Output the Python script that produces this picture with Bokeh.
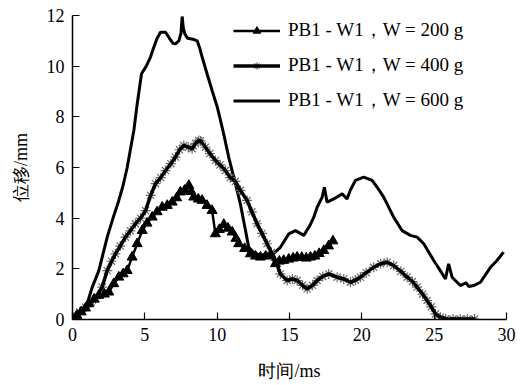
from bokeh.plotting import figure
from bokeh.models import Range1d, FixedTicker, Legend, LegendItem
from bokeh.embed import file_html
from bokeh.resources import INLINE

# ---- data ----
t200 = [0, 0.3, 0.6, 0.9, 1.13, 1.5, 1.82, 2.2, 2.51, 2.85, 3.2, 3.5, 3.78, 4.12, 4.47, 4.82,
        5.15, 5.51, 5.85, 6.2, 6.55, 6.89, 7.2, 7.46, 7.75, 8.04, 8.2, 8.38, 8.7, 8.96, 9.3,
        9.65, 9.88, 10.15, 10.46, 10.75, 11.04, 11.3, 11.49, 11.9, 12.3, 12.65, 12.99, 13.35,
        13.68, 14.03, 14.3, 14.6, 14.95, 15.25, 15.53, 15.85, 16.15, 16.45, 16.75, 17.05,
        17.37, 17.7, 18.0]
y200 = [0, 0.16, 0.3, 0.45, 0.62, 0.8, 0.95, 1.0, 1.08, 1.41, 1.67, 1.8, 1.93, 2.46, 2.99, 3.51,
        3.8, 4.04, 4.25, 4.43, 4.5, 4.63, 4.8, 5.03, 5.1, 5.29, 5.05, 4.83, 4.75, 4.7, 4.5,
        4.3, 3.38, 3.55, 3.75, 3.6, 3.45, 3.2, 2.99, 2.8, 2.59, 2.5, 2.46, 2.5,
        2.53, 2.2, 2.3, 2.33, 2.38, 2.42, 2.46, 2.45, 2.42, 2.46, 2.5, 2.6,
        2.72, 2.9, 3.1]

t400 = [0, 0.09, 0.5, 0.9, 1.3, 1.59, 2.05, 2.4, 2.7, 2.97, 3.3, 3.66, 4.0, 4.35, 4.7, 5.05,
        5.4, 5.74, 6.1, 6.43, 6.8, 7.12, 7.4, 7.69, 8.0, 8.27, 8.5, 8.73, 8.85, 9.19, 9.5,
        9.88, 10.2, 10.57, 10.9, 11.26, 11.6, 12.07, 12.4, 12.76, 13.1, 13.45, 13.75, 14.03,
        14.37, 14.84, 15.2, 15.53, 15.9, 16.22, 16.6, 16.91, 17.3, 17.71, 18.29, 18.75, 19.21,
        19.55, 19.9, 20.3, 20.82, 21.3, 21.75, 22.2, 22.7, 23.13, 23.5, 23.82, 24.2, 24.51,
        24.8, 25.09, 25.43, 25.8, 26.3, 26.8, 27.3, 27.8]
y400 = [0, 0.09, 0.3, 0.49, 0.7, 0.82, 1.28, 1.93, 2.3, 2.59, 2.9, 3.25, 3.5, 3.78, 4.0, 4.3,
        4.9, 5.36, 5.6, 5.88, 6.15, 6.41, 6.7, 6.87, 6.8, 6.74, 6.95, 7.07, 7.05, 6.8, 6.55,
        6.28, 6.1, 5.88, 5.6, 5.45, 5.1, 4.7, 4.25, 3.78, 3.4, 2.99, 2.65, 2.33,
        1.8, 1.54, 1.6, 1.54, 1.35, 1.21, 1.35, 1.54, 1.7, 1.8, 1.67, 1.6, 1.47,
        1.55, 1.67, 1.85, 2.06, 2.2, 2.26, 2.13, 1.9, 1.67, 1.5, 1.28, 1.0, 0.75,
        0.5, 0.22, 0.09, 0.03, 0.02, 0.02, 0.02, 0.02]

t600 = [0, 0.5, 1.0, 1.36, 1.82, 2.4, 2.8, 3.2, 3.5, 3.78, 4.0, 4.24, 4.47, 4.77, 5.1, 5.39,
        5.62, 5.85, 6.08, 6.43, 6.7, 6.95, 7.12, 7.35, 7.5, 7.58, 7.66, 7.76, 7.95, 8.15, 8.4,
        8.62, 8.8, 8.96, 9.3, 9.65, 10.0, 10.23, 10.5, 10.8, 11.26, 11.6, 11.96, 12.18, 12.6,
        13.2, 13.9, 14.37, 14.95, 15.41, 15.99, 16.4, 16.68, 16.91, 17.26, 17.41, 17.6, 18.06,
        18.64, 18.98, 19.2, 19.56, 20.13, 20.71, 21.06, 21.51, 22.2, 22.78, 23.36, 23.82,
        24.28, 24.97, 25.4, 25.78, 26.0, 26.24, 26.81, 27.2, 27.4, 27.73, 28.2, 28.89, 29.3,
        29.8]
y600 = [0, 0.2, 0.6, 1.27, 1.93, 3.25, 4.0, 4.7, 5.3, 6.0, 6.7, 7.46, 8.5, 9.7, 10.0, 10.36,
        10.75, 11.1, 11.34, 11.34, 11.1, 10.9, 10.88, 11.0, 11.3, 11.96, 11.5, 11.28, 11.1, 11.08, 11.05,
        11.0, 10.7, 10.36, 9.7, 9.04, 8.4, 7.86, 7.2, 6.4, 5.36, 4.57, 3.51, 2.85, 2.6,
        2.55, 2.6, 2.85, 3.38, 3.51, 3.32, 3.7, 4.04, 4.43, 4.83, 5.22, 4.63, 4.76,
        4.96, 4.76, 5.1, 5.49, 5.62, 5.49, 5.22, 4.83, 4.04, 3.51, 3.32, 3.25,
        2.99, 2.33, 1.95, 1.6, 2.2, 1.67, 1.34, 1.45, 1.3, 1.34, 1.47, 2.06, 2.3,
        2.66]

x_ticks = [0, 5, 10, 15, 20, 25, 30]
y_ticks = [0, 2, 4, 6, 8, 10, 12]
labels = ["PB1 - W1，W = 200 g", "PB1 - W1，W = 400 g", "PB1 - W1，W = 600 g"]

SERIF = "Liberation Serif"

p = figure(width=523, height=385, output_backend="svg", toolbar_location=None,
           x_range=Range1d(0, 30), y_range=Range1d(0, 12),
           min_border_left=72, min_border_right=17, min_border_top=15, min_border_bottom=66)
p.outline_line_color = None
p.grid.visible = False
p.background_fill_color = "white"
p.border_fill_color = "white"

for ax in (p.xaxis[0], p.yaxis[0]):
    ax.axis_line_width = 1.5
    ax.axis_line_color = "black"
    ax.major_tick_in = 7
    ax.major_tick_out = 0
    ax.major_tick_line_width = 1.2
    ax.minor_tick_line_color = None
    ax.major_label_text_font = SERIF
    ax.major_label_text_font_size = "18px"
    ax.major_label_text_color = "black"
    ax.axis_label_text_font = SERIF
    ax.axis_label_text_font_size = "18px"
    ax.axis_label_text_font_style = "normal"
    ax.axis_label_text_color = "black"

p.xaxis.ticker = FixedTicker(ticks=x_ticks)
p.yaxis.ticker = FixedTicker(ticks=y_ticks)
p.xaxis.axis_label = "时间/ms"
p.yaxis.axis_label = "位移/mm"
p.xaxis.major_label_standoff = 8
p.yaxis.major_label_standoff = 8
p.xaxis.axis_label_standoff = 17
p.yaxis.axis_label_standoff = 13

# W = 600 g
r600 = p.line(t600, y600, line_color="black", line_width=3)
# W = 400 g
r400m = p.scatter(t400, y400, marker="asterisk", size=10, line_color="#6a6a6a", line_width=1.2)
r400l = p.line(t400, y400, line_color="black", line_width=3.5)
# W = 200 g
r200l = p.line(t200, y200, line_color="black", line_width=2.5)
r200m = p.scatter(t200, y200, marker="triangle", size=10, fill_color="black", line_color="black")

legend = Legend(items=[
    LegendItem(label=labels[0], renderers=[r200l, r200m]),
    LegendItem(label=labels[1], renderers=[r400m, r400l]),
    LegendItem(label=labels[2], renderers=[r600]),
], location=(161, 206))
legend.background_fill_alpha = 0
legend.border_line_color = None
legend.padding = 0
legend.margin = 0
legend.spacing = 9
legend.glyph_width = 47
legend.glyph_height = 19
legend.label_height = 19
legend.label_standoff = 8
legend.label_text_font = SERIF
legend.label_text_font_size = "19px"
legend.label_text_color = "black"
p.add_layout(legend, "center")

open("out.html", "w").write(file_html(p, INLINE))
